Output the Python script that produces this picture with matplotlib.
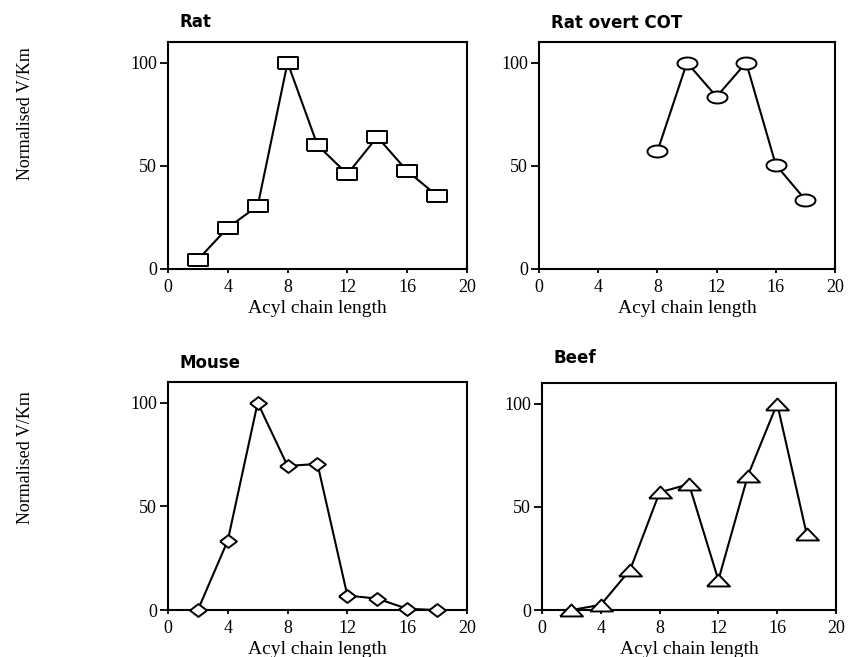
import numpy as np
import matplotlib
matplotlib.use("Agg")
import matplotlib.pyplot as plt

chain = [2, 4, 6, 8, 10, 12, 14, 16, 18]

rat = [4.5, 20, 30.5, 100, 60, 46, 64, 47.5, 35.5]
rat_cot_x = [8, 10, 12, 14, 16, 18]
rat_cot = [57, 100, 83.5, 100, 50.5, 33.5]
mouse = [0, 33.5, 100, 69.5, 70.5, 7, 5.5, 0.6, 0]
beef = [0, 2.5, 19.5, 57, 61, 14.5, 65, 100, 37]

xticks = [0, 4, 8, 12, 16, 20]
yticks = [0, 50, 100]


def box(h):
    return [(-1, -h), (1, -h), (1, h), (-1, h), (-1, -h)]


def oval(h):
    t = np.linspace(0, 2 * np.pi, 60)
    return list(zip(np.cos(t), h * np.sin(t)))


def diamond(h):
    return [(-1, 0), (0, -h), (1, 0), (0, h), (-1, 0)]


def tri(h):
    return [(-1, -h), (1, -h), (0, h), (-1, -h)]


serif = "Liberation Serif"

fig = plt.figure(figsize=(8.5, 6.57), dpi=100)

# title, x, y, marker, size, axes rect, title height
panels = [
    ("Rat", chain, rat, box(0.63), 13.7, [0.1976, 0.5906, 0.3518, 0.3455], 1.088),
    ("Rat overt COT", rat_cot_x, rat_cot, oval(0.6), 14.4, [0.6341, 0.5906, 0.3482, 0.3455], 1.085),
    ("Mouse", chain, mouse, diamond(0.76), 12.2, [0.1976, 0.0715, 0.3518, 0.3470], 1.084),
    ("Beef", chain, beef, tri(0.52), 16.5, [0.6376, 0.0715, 0.3459, 0.3455], 1.112),
]

for title, xs, ys, mk, ms, pos, ty in panels:
    ax = fig.add_axes(pos)
    ax.plot(xs, ys, color="black", linewidth=1.5, marker=mk, markersize=ms,
            markerfacecolor="white", markeredgecolor="black",
            markeredgewidth=1.4, clip_on=False, zorder=3)
    ax.set_xlim(0, 20)
    ax.set_ylim(0, 110)
    ax.set_xticks(xticks)
    ax.set_yticks(yticks)
    ax.set_xticklabels([str(v) for v in xticks], fontfamily=serif, fontsize=13)
    ax.set_yticklabels([str(v) for v in yticks], fontfamily=serif, fontsize=13)
    ax.tick_params(axis="y", direction="out", length=6, width=1.3, pad=2)
    ax.tick_params(axis="x", direction="out", length=3, width=1.3, pad=4)
    for s in ax.spines.values():
        s.set_linewidth(1.5)
    ax.set_xlabel("Acyl chain length", fontfamily=serif, fontsize=14, va="center")
    ax.xaxis.set_label_coords(0.5, -0.172)
    ax.text(0.04, ty, title, transform=ax.transAxes, ha="left", va="center",
            fontfamily="DejaVu Sans", fontweight="bold", fontsize=12)

fig.text(0.03, 0.8265, "Normalised V/Km", rotation=90, ha="center", va="center",
         fontfamily=serif, fontsize=13)
fig.text(0.03, 0.303, "Normalised V/Km", rotation=90, ha="center", va="center",
         fontfamily=serif, fontsize=13)

fig.savefig("out.png", dpi=100)
